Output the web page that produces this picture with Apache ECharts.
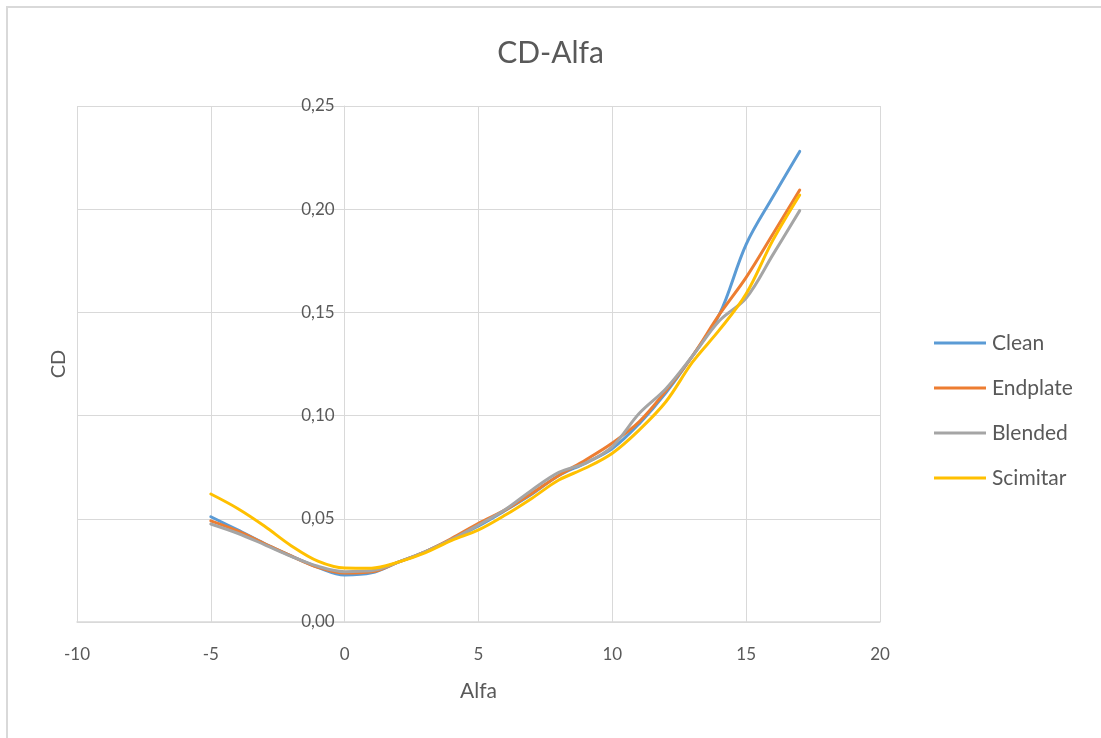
<!DOCTYPE html>
<html>
<head>
<meta charset="utf-8">
<script src="https://cdn.jsdelivr.net/npm/echarts@6/dist/echarts.min.js"></script>
<style>
  html, body { margin: 0; padding: 0; background: #ffffff; }
  #frame { position: absolute; left: 6px; top: 6px; width: 1110px; height: 750px;
           border: 2px solid #d9d9d9; box-sizing: border-box; }
  #chart { position: absolute; left: 0; top: 0; width: 1101px; height: 738px; }
</style>
</head>
<body>
<div id="frame"></div>
<div id="chart"></div>
<script>
// Angle of attack (deg)
const alfa = [-5, -4, -3, -2, -1, 0, 1, 2, 3, 4, 5, 6, 7, 8, 9, 10, 11, 12, 13, 14, 15, 16, 17];

// Drag coefficient per wingtip configuration
const clean    = [0.0510, 0.0446, 0.0380, 0.0320, 0.0265, 0.0228, 0.0238, 0.0290, 0.0340, 0.0400, 0.0465, 0.0540, 0.0620, 0.0710, 0.0770, 0.0840, 0.0960, 0.1110, 0.1290, 0.1490, 0.1830, 0.2060, 0.2280];
const endplate = [0.0490, 0.0441, 0.0380, 0.0320, 0.0265, 0.0237, 0.0243, 0.0290, 0.0340, 0.0405, 0.0478, 0.0543, 0.0624, 0.0710, 0.0785, 0.0867, 0.0970, 0.1120, 0.1290, 0.1490, 0.1670, 0.1880, 0.2093];
const blended  = [0.0475, 0.0430, 0.0375, 0.0318, 0.0270, 0.0244, 0.0248, 0.0290, 0.0340, 0.0400, 0.0470, 0.0545, 0.0640, 0.0725, 0.0770, 0.0850, 0.1010, 0.1130, 0.1290, 0.1460, 0.1570, 0.1780, 0.1993];
const scimitar = [0.0620, 0.0550, 0.0465, 0.0370, 0.0295, 0.0262, 0.0261, 0.0290, 0.0335, 0.0395, 0.0446, 0.0518, 0.0600, 0.0688, 0.0746, 0.0818, 0.0930, 0.1067, 0.1260, 0.1415, 0.1590, 0.1850, 0.2069];

const seriesNames = ['Clean', 'Endplate', 'Blended', 'Scimitar'];
const seriesData = [clean, endplate, blended, scimitar];
const colors = ['#5B9BD5', '#ED7D31', '#A5A5A5', '#FFC000'];

const xTicks = { min: -10, max: 20, interval: 5 };
const yTicks = { min: 0, max: 0.25, interval: 0.05 };

const textColor = '#595959';
const gridColor = '#d9d9d9';
const font = 'Lato, "Open Sans", sans-serif';

// Plot box in pixels; the vertical axis crosses the horizontal one at alfa = 0
const plot = { left: 77, right: 221, top: 106, bottom: 116, width: 1101 - 77 - 221 };
const yAxisShift = -plot.width * (0 - xTicks.min) / (xTicks.max - xTicks.min);

const chart = echarts.init(document.getElementById('chart'), null, { renderer: 'canvas' });

chart.setOption({
  backgroundColor: 'transparent',
  animation: false,
  color: colors,
  textStyle: { fontFamily: font, color: textColor },
  title: {
    text: 'CD-Alfa',
    left: 'center',
    top: 33,
    textStyle: { fontSize: 30, fontWeight: 'normal', color: textColor, fontFamily: font }
  },
  legend: {
    orient: 'vertical',
    left: 934,
    top: 331,
    padding: 0,
    icon: 'rect',
    itemWidth: 52,
    itemHeight: 3,
    itemGap: 21,
    data: seriesNames,
    textStyle: { fontSize: 21, color: textColor, lineHeight: 24, fontFamily: font, padding: [0, 0, 0, 1] }
  },
  grid: { left: plot.left, right: plot.right, top: plot.top, bottom: plot.bottom, containLabel: false, outerBoundsMode: 'none' },
  xAxis: {
    type: 'value',
    min: xTicks.min,
    max: xTicks.max,
    interval: xTicks.interval,
    name: 'Alfa',
    nameLocation: 'middle',
    nameGap: 59,
    nameTextStyle: { fontSize: 21, color: textColor, fontFamily: font },
    axisLine: { show: true, onZero: false, lineStyle: { color: gridColor, width: 1.5 } },
    axisTick: { show: false },
    axisLabel: { fontSize: 17, color: textColor, margin: 24, fontFamily: font },
    splitLine: { show: true, lineStyle: { color: gridColor, width: 1 } }
  },
  yAxis: {
    type: 'value',
    min: yTicks.min,
    max: yTicks.max,
    interval: yTicks.interval,
    offset: yAxisShift,
    name: 'CD',
    nameLocation: 'middle',
    nameRotate: 90,
    nameGap: 276,
    nameTextStyle: { fontSize: 20, color: textColor, fontFamily: font },
    axisLine: { show: true, onZero: false, lineStyle: { color: gridColor, width: 1 } },
    axisTick: { show: false },
    axisLabel: {
      fontSize: 17, color: textColor, margin: 10, fontFamily: font,
      formatter: v => v.toFixed(2).replace('.', ',')
    },
    splitLine: { show: true, lineStyle: { color: gridColor, width: 1 } }
  },
  series: seriesNames.map((name, i) => ({
    name: name,
    type: 'line',
    smooth: 0.35,
    symbol: 'none',
    data: alfa.map((a, j) => [a, seriesData[i][j]]),
    lineStyle: { width: 3, color: colors[i], cap: 'round', join: 'round' },
    itemStyle: { color: colors[i] },
    emphasis: { disabled: true }
  }))
});
</script>
</body>
</html>
